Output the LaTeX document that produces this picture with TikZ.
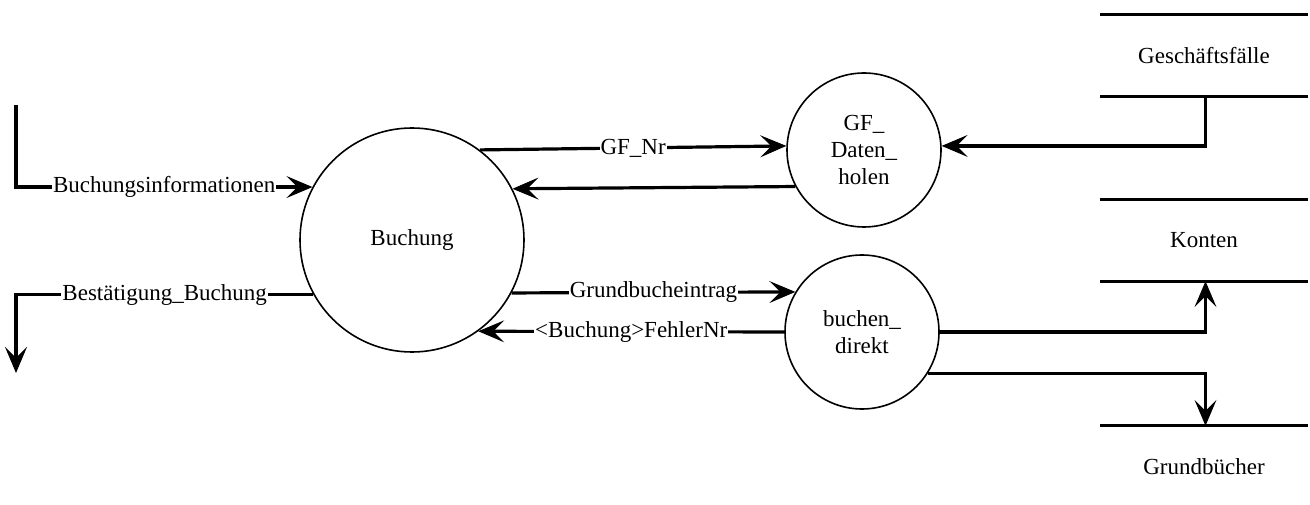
\documentclass[tikz,border=0pt]{standalone}
\usepackage{fontspec}
\setmainfont{Liberation Serif}
\usetikzlibrary{arrows.meta}
\begin{document}
\begin{tikzpicture}[x=1pt,y=-1pt,
  every node/.style={font=\fontsize{23}{27}\selectfont},
  proc/.style={draw, circle, line width=1.6pt, inner sep=0pt, align=center},
  store/.style={minimum width=207pt, minimum height=81pt, inner sep=0pt},
  storeline/.style={line width=3.2pt},
  flow/.style={line width=3.2pt, -{Stealth[length=26pt,width=22pt,inset=11pt,line width=1pt]}},
  lbl/.style={fill=white, inner sep=1pt}
]
\useasboundingbox (0,0) rectangle (1310,505);

% processes
\node[proc, minimum size=224pt] (buch) at (412,240) {Buchung};
\node[proc, minimum size=154pt] (gfd) at (864,150) {GF\_\\Daten\_\\holen};
\node[proc, minimum size=154pt] (bd) at (862,332) {buchen\_\\direkt};

% stores
\node[store] (gs) at (1204,55.5) {Geschäftsfälle};
\node[store] (ko) at (1204,240.5) {Konten};
\node[store] (gb) at (1204,466.5) {Grundbücher};
\draw[storeline] (gs.north west) -- (gs.north east) (gs.south west) -- (gs.south east);
\draw[storeline] (ko.north west) -- (ko.north east) (ko.south west) -- (ko.south east);
\draw[storeline] (gb.north west) -- (gb.north east);

% external ends
\coordinate (src) at (16,105);
\coordinate (snk) at (16,373);

% flows
\draw[flow] (src) |- node[lbl, pos=0.75] {Buchungsinformationen} (buch.152.8);
\draw[flow] (buch.209) -| node[lbl, pos=0.25] {Bestätigung\_Buchung} (snk);
\draw[flow] (buch.53.7) -- node[lbl] {GF\_Nr} (gfd.177.8);
\draw[flow] (gfd.208.8) -- (buch.27.5);
\draw[flow] (buch.-28.4) -- node[lbl] {Grundbucheintrag} (bd.149.8);
\draw[flow] (bd.180) -- node[lbl] {<Buchung>FehlerNr} (buch.-54.8);
\draw[flow] ([xshift=1.5pt]gs.south) |- (gfd.3);
\draw[flow] (bd.-0.7) -| ([xshift=1.5pt]ko.south);
\draw[flow] (bd.-32.9) -| ([xshift=1.5pt]gb.north);
\end{tikzpicture}
\end{document}
